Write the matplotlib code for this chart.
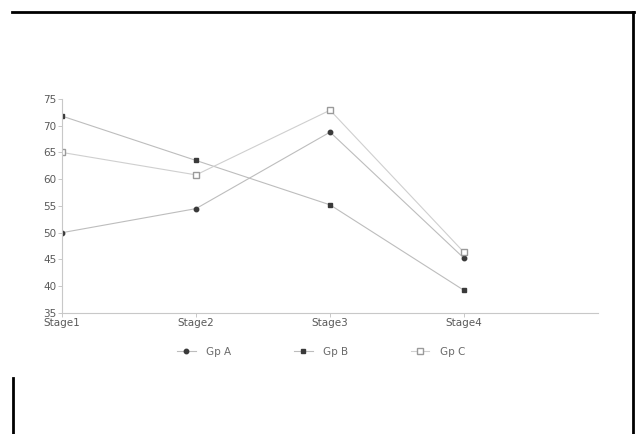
import matplotlib.pyplot as plt
from matplotlib.lines import Line2D

stages = ['Stage1', 'Stage2', 'Stage3', 'Stage4']
gp_a = [50, 54.5, 68.8, 45.2]
gp_b = [71.8, 63.5, 55.2, 39.2]
gp_c = [65, 60.8, 72.9, 46.3]
yticks = [35, 40, 45, 50, 55, 60, 65, 70, 75]

fig = plt.figure(figsize=(6.36, 4.34), dpi=100)
ax = fig.add_axes([0.0975, 0.279, 0.843, 0.493])

x = range(len(stages))
ax.plot(x, gp_a, color='#bdbdbd', lw=0.8, marker='o', ms=3.2,
        mfc='#3a3a3a', mec='#3a3a3a', label='Gp A')
ax.plot(x, gp_b, color='#bdbdbd', lw=0.8, marker='s', ms=3.3,
        mfc='#3a3a3a', mec='#3a3a3a', label='Gp B')
ax.plot(x, gp_c, color='#cfcfcf', lw=0.8, marker='s', ms=3.8,
        mfc='white', mec='#9a9a9a', label='Gp C')

ax.set_xlim(0, 4)
ax.set_ylim(35, 75)
ax.set_xticks(list(x))
ax.set_xticklabels(stages)
ax.set_yticks(yticks)
for s in ['top', 'right']:
    ax.spines[s].set_visible(False)
for s in ['left', 'bottom']:
    ax.spines[s].set_color('#c8c8c8')
    ax.spines[s].set_linewidth(0.8)
ax.tick_params(colors='#c8c8c8', labelcolor='#5a5a5a', labelsize=7.5,
               length=3, width=0.7, pad=1)

fig.legend(loc='center', bbox_to_anchor=(0.505, 0.189), ncol=3, frameon=False,
           fontsize=7.5, labelcolor='#6a6a6a', columnspacing=6.0,
           handlelength=1.8, handletextpad=1.0)

# scanned page border
fig.add_artist(Line2D([12/636, 634/636], [1 - 12/434, 1 - 12/434],
                      color='black', lw=2, transform=fig.transFigure))
fig.add_artist(Line2D([633/636, 633/636], [1 - 12/434, 0],
                      color='black', lw=2, transform=fig.transFigure))
fig.add_artist(Line2D([13/636, 13/636], [1 - 378/434, 0],
                      color='black', lw=2, transform=fig.transFigure))

plt.savefig('out.png', dpi=100)
